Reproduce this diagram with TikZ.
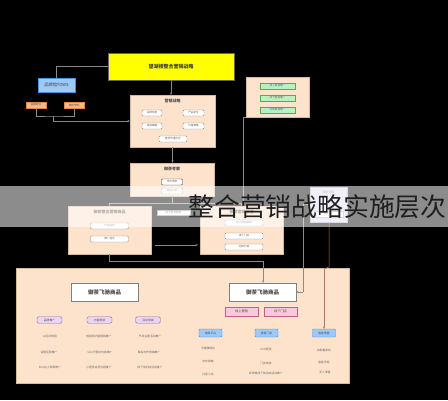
\documentclass[tikz,border=0pt]{standalone}
\usepackage{fontspec}
\setmainfont{Noto Sans CJK SC}
\usetikzlibrary{arrows.meta}
\definecolor{peach}{HTML}{FDE3CC}
\definecolor{peachline}{HTML}{D9B89A}
\definecolor{linegray}{HTML}{8A8A8A}
\definecolor{ylw}{HTML}{FFFF00}
\definecolor{bluef}{HTML}{9CC9F5}
\definecolor{bluel}{HTML}{4A8FD9}
\definecolor{orangef}{HTML}{F6B98A}
\definecolor{orangel}{HTML}{E08A4A}
\definecolor{greenf}{HTML}{B8F0C4}
\definecolor{greenl}{HTML}{4CAF50}
\definecolor{pinkf}{HTML}{F8C8DC}
\definecolor{pinkl}{HTML}{C0608F}
\definecolor{purf}{HTML}{EAD6F2}
\definecolor{purl}{HTML}{9A62A8}
\definecolor{lavf}{HTML}{E2DEF6}
\definecolor{brownl}{HTML}{B0785A}
\newcommand\myfs[1]{\fontsize{#1}{#1}\selectfont}
\begin{document}
\begin{tikzpicture}[x=1pt,y=-1pt,
  every node/.style={inner sep=0pt, outer sep=0pt},
  panel/.style={draw=peachline, line width=0.4pt, fill=peach, anchor=north west},
  ttl/.style={font=\myfs{4}\bfseries, text=black!70},
  wbox/.style={draw=black!45, fill=white, rounded corners=1pt, line width=0.4pt, minimum height=6, font=\myfs{2.6}, text=black!60},
  gbox/.style={draw=greenl, fill=greenf, line width=0.4pt, minimum width=35, minimum height=5.5, font=\myfs{2.6}, text=black!60},
  obox/.style={draw=orangel, fill=orangef, line width=0.4pt, minimum width=20, minimum height=6, font=\myfs{2.6}, text=black!70},
  bbox/.style={draw=bluel, fill=bluef, line width=0.4pt, rounded corners=1pt, minimum width=23, minimum height=8, font=\myfs{2.8}, text=black!70},
  pbox/.style={draw=pinkl, fill=pinkf, line width=0.4pt, minimum width=33, minimum height=9, font=\myfs{3.2}, text=black!70},
  ubox/.style={draw=purl, fill=purf, line width=0.4pt, rounded corners=1.5pt, minimum width=25, minimum height=6.5, font=\myfs{2.8}, text=black!70},
  big/.style={draw=black!50, fill=white, line width=0.5pt, minimum width=67, minimum height=18, font=\myfs{5.5}\bfseries, text=black!70, anchor=north west},
  item/.style={font=\myfs{2.8}, text=black!60},
  conn/.style={draw=linegray, line width=0.5pt},
  arr/.style={conn, -{Stealth[length=2.5pt,width=2pt]}},
]
\useasboundingbox (0,0) rectangle (448,400);
\fill[black] (0,0) rectangle (448,400);

% top
\node[draw=black!60, line width=0.5pt, fill=ylw, anchor=north west, minimum width=126, minimum height=27, font=\myfs{5}\bfseries, text=black!75] (top) at (108,53) {望湖楼整合营销战略};
\node[draw=bluel, fill=bluef, line width=0.4pt, anchor=north west, minimum width=37, minimum height=14, font=\myfs{4.2}, text=black!75] (tows) at (38,78) {品牌馆TOWS};
\node[obox] (o1) at (36,105) {品牌定位};
\node[obox] (o2) at (74,105) {目标市场};

% peach 1
\node[panel, minimum width=85, minimum height=52] (p1) at (130,95) {};
\node[ttl] (p1t) at (172.5,101) {营销战略};
\node[wbox, minimum width=20] (p1a) at (152,113) {品牌形象};
\node[wbox, minimum width=21] (p1b) at (193.5,113) {产品定位};
\node[wbox, minimum width=20] (p1c) at (152,126) {渠道策略};
\node[wbox, minimum width=21] (p1d) at (193.5,126) {价格策略};
\node[wbox, minimum width=28] (p1e) at (173,139) {整合传播方式};

% green panel
\node[panel, minimum width=63, minimum height=40] (gp) at (246,77) {};
\node[gbox] (g1) at (277.5,86) {线上渠道推广};
\node[gbox] (g2) at (277.5,98) {线下渠道推广};
\node[gbox] (g3) at (277.5,110) {社群渠道推广};

% peach 2
\node[panel, minimum width=84, minimum height=33] (p2) at (130,163) {};
\node[ttl] (p2t) at (172,169) {御茶考察};
\node[wbox, minimum width=21, draw=black!75] (p2a) at (172,182) {市场调研};
\node[wbox, minimum width=21] (p2b) at (172,191) {竞品分析};

% peach 3
\node[panel, minimum width=83, minimum height=48] (p3) at (68,206) {};
\node[ttl] (p3t) at (109.5,212) {御茶整合营销商品};
\node[wbox, minimum width=38] (p3a) at (109.5,226) {产品组合};
\node[wbox, minimum width=38] (p3b) at (109.5,239) {推广组合};

\node[draw=black!40, fill=white, line width=0.4pt, minimum width=33, minimum height=5.5, font=\myfs{2.6}, text=black!60] (lab) at (173.5,212.5) {整合营销策略};

% peach 4
\node[panel, minimum width=83, minimum height=48] (p4) at (200,206) {};
\node[ttl] (p4t) at (241.5,212) {御茶营销渠道};
\node[wbox, minimum width=38] (p4a) at (244,223) {线上销售渠道};
\node[wbox, minimum width=38] (p4b) at (244,236) {线下门店};
\node[wbox, minimum width=38] (p4c) at (244,247) {社群分销};

% lavender
\node[draw=black!30, fill=lavf, line width=0.4pt, anchor=north west, minimum width=37, minimum height=35] (lav) at (310,187) {};
\node[font=\myfs{2.8}, text=black!55] (lavt) at (328.5,192) {御茶营销};
\node[draw=black!30, fill=white, minimum width=29, minimum height=6, font=\myfs{2.6}, text=black!55] (lavb) at (328.5,214) {渠道推广};

% big panel
\node[panel, minimum width=333, minimum height=115] (bp) at (16,268) {};
\node[big] (A) at (71,283) {御茶飞驰商品};
\node[big] (B) at (229,283) {御茶飞驰商品};
\node[pbox] (pk1) at (241.5,311.5) {线上营销};
\node[pbox] (pk2) at (280.5,311.5) {线下门店};
\node[ubox] (u1) at (49.5,320) {品牌推广};
\node[ubox] (u2) at (99.5,320) {内容营销};
\node[ubox] (u3) at (148,320) {活动营销};

\node[item] (l11) at (50,336) {AI互动体验};
\node[item] (l12) at (49,352) {话题运营推广};
\node[item] (l13) at (50,367) {KOL达人种草推广};
\node[item] (l21) at (99,336) {短视频内容营销推广};
\node[item] (l22) at (100,352) {公众号图文内容推广};
\node[item] (l23) at (99,367) {小程序会员内容推广};
\node[item] (l31) at (150,336) {节日主题活动推广};
\node[item] (l32) at (149,352) {联名合作营销推广};
\node[item] (l33) at (150,367) {线下快闪店活动推广};

\node[bbox] (b1) at (210.5,333) {电商平台};
\node[bbox] (b2) at (266.5,333) {直营门店};
\node[bbox] (b3) at (324,333) {智能零售};

\node[item] (m11) at (208,348) {天猫旗舰店};
\node[item] (m12) at (208,361) {京东商城};
\node[item] (m13) at (208,374) {抖音小店};
\node[item] (m21) at (266,349) {O2O配送};
\node[item] (m22) at (266,363) {门店体验};
\node[item] (m23) at (266,373) {新零售线下体验店活动推广};
\node[item] (m31) at (324,350) {自助售卖机};
\node[item] (m32) at (324,362) {智能货柜};
\node[item] (m33) at (325,372) {无人零售};

% connectors
\draw[conn] (top.west) -| (tows.north);
\coordinate (j1) at (53,116);
\draw[conn] (o1.south) |- (j1) -| (o2.south);
\draw[arr] (j1) |- (p1.west);
\draw[arr] (top.south) -- (top.south |- p1.north);
\draw[arr] (p1.south) -- (p1.south |- p2.north);
\coordinate (j2) at (172,203);
\draw[conn] (p2.south) -- (j2);
\draw[arr] (j2) -| (p3.north);
\draw[arr] (j2) -| (p4.north);
\coordinate (gtap) at (243,117);
\draw[conn] (gp.south west) -- (gtap) -- (gtap |- p4.north);
\coordinate (h245) at (0,245);
\draw[arr] ([xshift=4pt]p3.east |- h245) -- ([xshift=-2pt]p4.west |- h245);
\coordinate (j3) at (263,261);
\draw[conn] (p3.south) |- (j3);
\draw[arr] (j3) -- (j3 |- B.north);
\coordinate (j4) at (303,292);
\draw[conn] (lav.west) -| (j4);
\draw[arr] (j4) -- (B.east |- j4);
\coordinate (j5) at (329,267);
\coordinate (j6) at (324,269);
\draw[conn, draw=brownl] (lav.south -| j5) -- (j5) -- (j6);
\draw[arr, draw=brownl] (j6) -- (b3.north);

% overlay band and title
\fill[white, opacity=0.55] (0,186) rectangle (448,227);
\node[anchor=west, font=\myfs{25.8}, text=black!88] (ttl) at (188.5,207) {整合营销战略实施层次};
\end{tikzpicture}
\end{document}
